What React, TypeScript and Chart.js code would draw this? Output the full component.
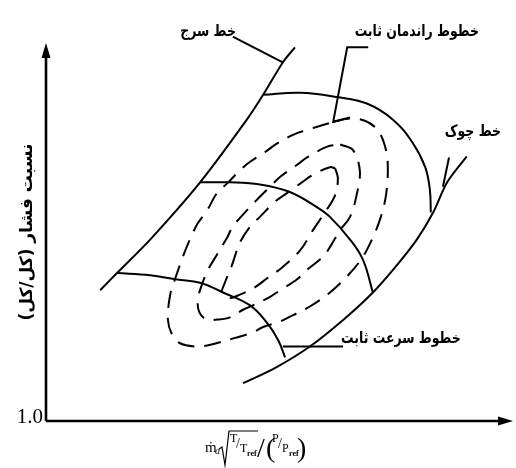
import React, { useEffect, useRef } from 'react';
import { Chart, registerables } from 'chart.js';

Chart.register(...registerables);

// ---- curves of the compressor map (x: corrected mass flow, y: pressure ratio) ----
const surgeLine: number[][] = [
  [1.16, 2.21], [1.52, 2.37], [2.23, 2.68], [3.3, 3.21], [4.3, 3.79], [4.65, 4.02], [5.07, 4.32], [5.33, 4.46],
];
const speedHigh: number[][] = [
  [4.65, 4.02], [5.44, 4.04], [6.23, 4.0], [6.87, 3.94], [7.43, 3.79], [7.86, 3.57], [8.12, 3.35], [8.22, 3.14], [8.24, 2.93],
];
const speedMid: number[][] = [
  [3.3, 3.21], [3.94, 3.21], [4.58, 3.19], [5.22, 3.12], [5.8, 2.98], [6.08, 2.89], [6.51, 2.68], [6.79, 2.49], [7.0, 2.19],
];
const speedLow: number[][] = [
  [1.52, 2.37], [2.23, 2.35], [2.81, 2.31], [3.3, 2.28], [3.79, 2.19], [4.37, 2.07], [4.73, 1.91], [4.97, 1.75], [5.12, 1.59],
];
const chokeLine: number[][] = [
  [4.22, 1.35], [4.9, 1.49], [5.65, 1.69], [6.4, 1.95], [7.0, 2.19], [7.47, 2.42], [7.94, 2.68], [8.29, 2.93], [8.59, 3.21], [9.01, 3.45],
];
const effOuter: number[][] = [
  [6.15, 3.77], [6.51, 3.8], [6.83, 3.78], [7.11, 3.69], [7.28, 3.51], [7.32, 3.32], [7.28, 3.09], [7.17, 2.89], [7.0, 2.7],
  [6.77, 2.51], [6.47, 2.35], [6.08, 2.19], [5.65, 2.06], [5.29, 1.98], [5.01, 1.92], [4.65, 1.87], [4.43, 1.82], [4.05, 1.77],
  [3.45, 1.7], [3.19, 1.69], [2.87, 1.72], [2.7, 1.8], [2.61, 1.94], [2.66, 2.17], [2.76, 2.31], [2.93, 2.52], [3.08, 2.68],
  [3.25, 2.83], [3.45, 2.95], [3.66, 3.11], [3.88, 3.2], [4.15, 3.32], [4.37, 3.4], [4.69, 3.49], [4.95, 3.57], [5.29, 3.65],
  [5.55, 3.69], [5.93, 3.74], [6.15, 3.77],
];
const effMiddle: number[][] = [
  [6.3, 3.56], [6.57, 3.51], [6.72, 3.32], [6.66, 3.11], [6.51, 2.89], [6.3, 2.77], [6.08, 2.61], [5.93, 2.52], [5.59, 2.4],
  [5.37, 2.31], [5.01, 2.21], [4.8, 2.15], [4.43, 2.07], [4.22, 2.03], [3.94, 1.96], [3.68, 1.94], [3.43, 1.94], [3.28, 2.01],
  [3.25, 2.12], [3.32, 2.24], [3.47, 2.4], [3.66, 2.54], [3.88, 2.7], [4.0, 2.8], [4.3, 2.95], [4.52, 3.05], [4.8, 3.17],
  [5.01, 3.26], [5.37, 3.37], [5.59, 3.44], [6.02, 3.54], [6.3, 3.56],
];
const effInner: number[][] = [
  [6.19, 3.34], [6.25, 3.25], [6.19, 3.09], [5.97, 2.93], [5.72, 2.77], [5.44, 2.58], [5.05, 2.42], [4.73, 2.32], [4.48, 2.24],
  [4.15, 2.17], [3.94, 2.14], [3.77, 2.19], [3.83, 2.28], [3.98, 2.44], [4.15, 2.65], [4.37, 2.8], [4.58, 2.89], [4.9, 3.03],
  [5.16, 3.11], [5.48, 3.21], [5.72, 3.28], [6.08, 3.35], [6.19, 3.34],
];

// ---- leader lines from labels ----
const surgePointer: number[][] = [[4.0, 4.56], [5.07, 4.32]];
const effPointer: number[][] = [[6.9, 4.46], [6.45, 4.46], [6.15, 3.77], [6.51, 3.81]];
const chokePointer: number[][] = [[8.63, 3.44], [8.5, 3.17]];
const speedPointer: number[][] = [[5.07, 1.69], [6.36, 1.69]];

// ---- annotation labels ----
const labelTexts = ['خط سرج', 'خطوط راندمان ثابت', 'خط چوک', 'خطوط سرعت ثابت'];
const labelX = [3.47, 7.94, 9.14, 7.6];
const labelY = [4.6, 4.6, 3.68, 1.76];

const yTitle = 'نسبت فشار (کل/کل)';
const yTickValues = [1.0];

const toPts = (a: number[][]) => a.map(([x, y]) => ({ x, y }));

const solid = (a: number[][], tension: number) => ({
  data: toPts(a),
  showLine: true,
  borderColor: '#000',
  borderWidth: 2,
  pointRadius: 0,
  tension,
  clip: false as const,
});
const dashed = (a: number[][]) => ({
  ...solid(a, 0.35),
  borderDash: [17, 10],
});

const PERSIAN_FONT = '"DejaVu Sans", "Noto Sans", sans-serif';
const SERIF = '"Liberation Serif", "DejaVu Serif", serif';

const overlay = {
  id: 'overlay',
  afterDraw(chart: any) {
    const { ctx, chartArea, scales } = chart;
    const { left, right, top, bottom } = chartArea;
    ctx.save();
    ctx.fillStyle = '#000';
    ctx.strokeStyle = '#000';
    // axes with arrow heads
    ctx.lineWidth = 2.6;
    ctx.beginPath();
    ctx.moveTo(left, bottom);
    ctx.lineTo(left, top + 10);
    ctx.moveTo(left, bottom);
    ctx.lineTo(right - 10, bottom);
    ctx.stroke();
    ctx.beginPath();
    ctx.moveTo(left, top);
    ctx.lineTo(left - 4.5, top + 15);
    ctx.lineTo(left + 4.5, top + 15);
    ctx.closePath();
    ctx.fill();
    ctx.beginPath();
    ctx.moveTo(right, bottom);
    ctx.lineTo(right - 15, bottom - 4.5);
    ctx.lineTo(right - 15, bottom + 4.5);
    ctx.closePath();
    ctx.fill();

    // labels (slightly condensed horizontally)
    ctx.font = `bold 16px ${PERSIAN_FONT}`;
    ctx.textAlign = 'center';
    ctx.textBaseline = 'middle';
    (ctx as any).direction = 'rtl';
    labelTexts.forEach((t, i) => {
      const px = scales.x.getPixelForValue(labelX[i]);
      const py = scales.y.getPixelForValue(labelY[i]);
      ctx.save();
      ctx.translate(px, py);
      ctx.scale(0.78, 1);
      ctx.fillText(t, 0, 0);
      ctx.restore();
    });
    (ctx as any).direction = 'ltr';

    // x-axis title: m_dot_a sqrt(T/T_ref) / (P/P_ref)
    const x0 = left + 159;
    const b = bottom + 31;
    ctx.textAlign = 'left';
    ctx.textBaseline = 'alphabetic';
    ctx.font = `15px ${SERIF}`;
    ctx.fillText('ṁ', x0, b);
    ctx.font = `italic 10px ${SERIF}`;
    ctx.fillText('a', x0 + 10, b + 2);
    ctx.lineWidth = 1.2;
    ctx.beginPath();
    ctx.moveTo(x0 + 14, b - 3);
    ctx.lineTo(x0 + 17, b - 5);
    ctx.lineTo(x0 + 20, b + 13);
    ctx.lineTo(x0 + 24, b - 21);
    ctx.lineTo(x0 + 53, b - 21);
    ctx.stroke();
    const frac = (sx: number, letter: string) => {
      ctx.font = `12px ${SERIF}`;
      ctx.fillText(letter, sx, b - 10);
      ctx.font = `14px ${SERIF}`;
      ctx.fillText('/', sx + 6, b - 4);
      ctx.font = `12px ${SERIF}`;
      ctx.fillText(letter, sx + 10, b);
      ctx.font = `bold 8px ${SERIF}`;
      ctx.fillText('ref', sx + 17, b + 4);
    };
    frac(x0 + 25, 'T');
    ctx.font = `28px ${SERIF}`;
    ctx.fillText('/', x0 + 52, b + 5);
    ctx.fillText('(', x0 + 61, b + 5);
    frac(x0 + 67, 'P');
    ctx.font = `28px ${SERIF}`;
    ctx.fillText(')', x0 + 92, b + 5);
    ctx.restore();
  },
};

export default function App() {
  const ref = useRef<HTMLCanvasElement>(null);
  useEffect(() => {
    if (!ref.current) return;
    const chart = new Chart(ref.current, {
      type: 'scatter',
      data: {
        datasets: [
          solid(surgeLine, 0.3),
          solid(speedHigh, 0.4),
          solid(speedMid, 0.4),
          solid(speedLow, 0.4),
          solid(chokeLine, 0.3),
          dashed(effOuter),
          dashed(effMiddle),
          dashed(effInner),
          solid(surgePointer, 0),
          solid(effPointer, 0),
          solid(chokePointer, 0),
          solid(speedPointer, 0),
        ] as any,
      },
      options: {
        responsive: false,
        animation: false,
        events: [],
        layout: { padding: { top: 43, right: 3, left: 0, bottom: 0 } },
        plugins: { legend: { display: false }, tooltip: { enabled: false } },
        scales: {
          x: {
            type: 'linear',
            min: 0,
            max: 10,
            grid: { display: false, drawTicks: false },
            border: { display: false },
            ticks: { display: false },
            afterFit: (s: any) => {
              s.height = 47;
            },
          },
          y: {
            type: 'linear',
            min: 1,
            max: 4.5,
            grid: { display: false, drawTicks: false },
            border: { display: false },
            afterBuildTicks: (s: any) => {
              s.ticks = yTickValues.map((v) => ({ value: v }));
            },
            ticks: {
              color: '#000',
              padding: 3,
              labelOffset: -4,
              font: { family: SERIF, size: 21 },
              callback: (v: any) => Number(v).toFixed(1),
            },
            title: {
              display: true,
              text: yTitle,
              color: '#000',
              font: { family: PERSIAN_FONT, size: 17, weight: 'bold' },
              padding: { top: 17, bottom: 0 },
            },
            afterFit: (s: any) => {
              s.width = 46;
            },
          },
        },
      },
      plugins: [overlay],
    });
    return () => chart.destroy();
  }, []);
  return (
    <div style={{ position: 'fixed', left: 0, top: 0, width: 516, height: 468, background: '#fff' }}>
      <canvas ref={ref} width={516} height={468} />
    </div>
  );
}
